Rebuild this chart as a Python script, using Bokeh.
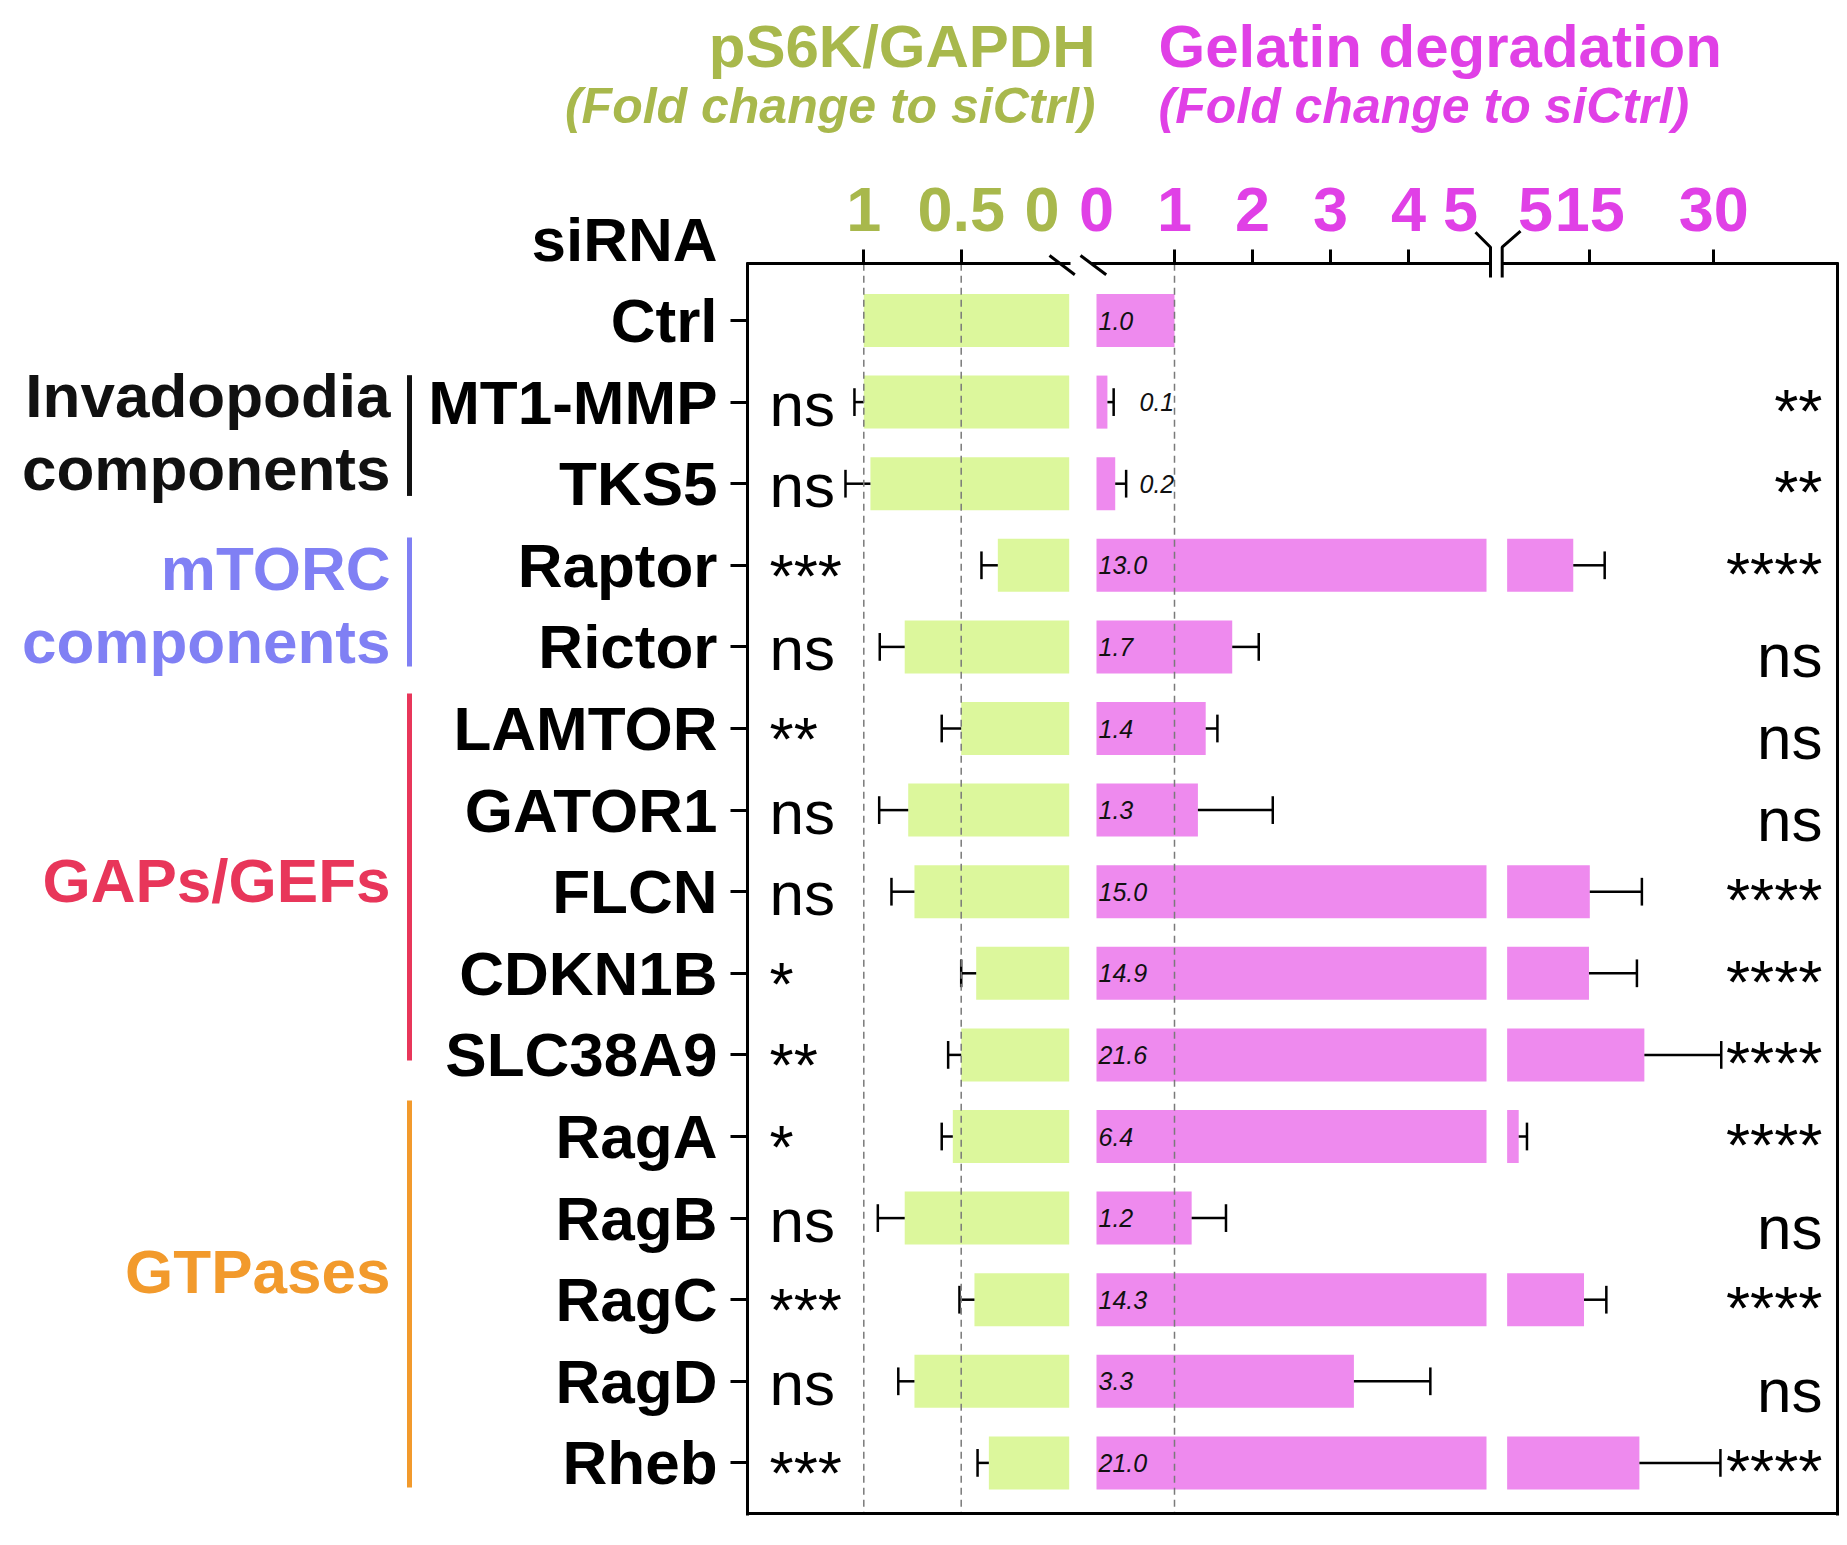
from bokeh.plotting import figure
from bokeh.models import Range1d, LinearAxis, FixedTicker, ColumnDataSource
from bokeh.core.properties import value
from bokeh.embed import file_html
from bokeh.resources import INLINE

# ---------------- data ----------------
categories = ["Ctrl", "MT1-MMP", "TKS5", "Raptor", "Rictor", "LAMTOR", "GATOR1",
              "FLCN", "CDKN1B", "SLC38A9", "RagA", "RagB", "RagC", "RagD", "Rheb"]
ps6k_mean = [1.00, 1.00, 0.966, 0.312, 0.79, 0.50, 0.772, 0.74, 0.423, 0.50,
             0.543, 0.79, 0.432, 0.74, 0.358]
ps6k_err = [0.0, 0.048, 0.128, 0.084, 0.128, 0.10, 0.149, 0.118, 0.077, 0.067,
            0.057, 0.138, 0.077, 0.083, 0.058]
gel_mean = [1.0, 0.14, 0.24, 13.0, 1.74, 1.4, 1.3, 15.0, 14.9, 21.6,
            6.4, 1.22, 14.3, 3.3, 21.0]
gel_err = [0.0, 0.08, 0.14, 3.8, 0.34, 0.15, 0.96, 6.3, 5.8, 9.3,
           1.0, 0.44, 2.7, 0.98, 9.8]
ps6k_sig = ["", "ns", "ns", "***", "ns", "**", "ns", "ns", "*", "**",
            "*", "ns", "***", "ns", "***"]
gel_sig = ["", "**", "**", "****", "ns", "ns", "ns", "****", "****", "****",
           "****", "ns", "****", "ns", "****"]
group_names = ["Invadopodia\ncomponents", "mTORC\ncomponents", "GAPs/GEFs", "GTPases"]
group_first = ["MT1-MMP", "Raptor", "LAMTOR", "RagA"]
group_last = ["TKS5", "Rictor", "SLC38A9", "Rheb"]
ps6k_ticks = [1, 0.5]
ps6k_tick_labels = ["1", "0.5"]
gel_ticks_low = [1, 2, 3, 4]
gel_ticks_high = [15, 30]
gel_break = 5
title_left = ["pS6K/GAPDH", "(Fold change to siCtrl)"]
title_right = ["Gelatin degradation", "(Fold change to siCtrl)"]

# ---------------- style ----------------
FONT = "Liberation Sans"
GREEN_TXT = "#a8b84c"
PINK_TXT = "#e040e6"
GREEN_BAR = "#dcf79c"
PINK_BAR = "#ee8aee"
GROUP_COLORS = ["#111111", "#8080f4", "#e8365a", "#f29a2c"]
GROUP_LINE_OFFSETS = [[-47, 26], [-38, 35], [-11], [-28]]
GROUP_BAR_PAD = [(-0.33, 0.15), (-0.34, 0.24), (-0.43, 0.07), (-0.44, 0.30)]
BIG = "62px"
BAR_H = 0.65
CAP_H = 0.17

# ---------------- layout calibration (picture pixels) ----------------
W, H = 1839, 1525
FR_L, FR_R, FR_T, FR_B = 747.0, 1836.7, 263.3, 1513.3


def lin(px_a, v_a, px_b, v_b):
    k = (v_b - v_a) / (px_b - px_a)
    return lambda px: v_a + (px - px_a) * k


g_at = lin(863.3, 1.0, 960.7, 0.5)       # pS6K axis (reversed)
p1_at = lin(1096.0, 0.0, 1174.0, 1.0)    # gelatin, low segment
p2_at = lin(1589.3, 15.0, 1713.3, 30.0)  # gelatin, high segment
row_at = lin(320.0, 0.0, 1462.4, 14.0)   # category rows

x0, x1 = 0, W
y0, y1 = 0, H
G_BASE = g_at(1068.7)

p = figure(width=W, height=H, title=None,
           x_range=Range1d(x0, x1), y_range=Range1d(y1, y0),
           x_axis_location=None, y_axis_location=None,
           toolbar_location=None, output_backend="svg",
           min_border=0, outline_line_color=None,
           background_fill_color="white", border_fill_color="white")
p.xgrid.visible = False
p.ygrid.visible = False
p.extra_x_ranges = {
    "g": Range1d(g_at(x0), g_at(x1)),
    "p1": Range1d(p1_at(x0), p1_at(x1)),
    "p2": Range1d(p2_at(x0), p2_at(x1)),
}
p.extra_y_ranges = {"rows": Range1d(row_at(y1), row_at(y0))}

rows = list(range(len(categories)))
idx = {c: i for i, c in enumerate(categories)}

# ---------------- bars ----------------
src = ColumnDataSource(dict(
    y=rows, ps6k=ps6k_mean,
    gel_low=[min(v, gel_break) for v in gel_mean],
))
p.hbar(y="y", left="ps6k", right=G_BASE, height=BAR_H, source=src,
       x_range_name="g", y_range_name="rows",
       fill_color=GREEN_BAR, line_color=None)
p.hbar(y="y", left=0, right="gel_low", height=BAR_H, source=src,
       x_range_name="p1", y_range_name="rows",
       fill_color=PINK_BAR, line_color=None)
hi = [i for i in rows if gel_mean[i] > gel_break]
src_hi = ColumnDataSource(dict(y=hi, gel=[gel_mean[i] for i in hi]))
p.hbar(y="y", left=gel_break, right="gel", height=BAR_H, source=src_hi,
       x_range_name="p2", y_range_name="rows",
       fill_color=PINK_BAR, line_color=None)


# ---------------- error bars ----------------
def err_bars(ys, vals, errs, xr):
    keep = [k for k, e in enumerate(errs) if e > 0]
    ys2 = [ys[k] for k in keep]
    v2 = [vals[k] for k in keep]
    ends = [vals[k] + errs[k] for k in keep]
    s = ColumnDataSource(dict(y=ys2, v=v2, end=ends,
                              ya=[y - CAP_H for y in ys2], yb=[y + CAP_H for y in ys2]))
    p.segment(x0="v", y0="y", x1="end", y1="y", source=s, x_range_name=xr,
              y_range_name="rows", line_color="black", line_width=2.5)
    p.segment(x0="end", y0="ya", x1="end", y1="yb", source=s, x_range_name=xr,
              y_range_name="rows", line_color="black", line_width=2.5)


err_bars(rows, ps6k_mean, ps6k_err, "g")
lo = [i for i in rows if gel_mean[i] <= gel_break]
err_bars(lo, [gel_mean[i] for i in lo], [gel_err[i] for i in lo], "p1")
err_bars(hi, [gel_mean[i] for i in hi], [gel_err[i] for i in hi], "p2")

# ---------------- dashed reference lines ----------------
for xv, xr in [(1, "g"), (0.5, "g"), (1, "p1")]:
    p.segment(x0=xv, y0=FR_T, x1=xv, y1=FR_B, x_range_name=xr,
              line_color="#7a7a7a", line_width=1.5, line_dash="7 5")

# ---------------- value labels on gelatin bars ----------------
lab_x = [p1_at(1137) if v < 0.5 else 0 for v in gel_mean]
p.text(x=lab_x, y=rows, text=[f"{v:.1f}" for v in gel_mean],
       x_range_name="p1", y_range_name="rows", x_offset=2, y_offset=0,
       text_font=value(FONT), text_font_style="italic", text_font_size="25px",
       text_color="#111111", text_baseline="alphabetic", text_align="left")


# ---------------- significance labels ----------------
def sig_offsets(labels, ns_off, star_off):
    return [ns_off if t == "ns" else star_off for t in labels]


p.text(x=769, y=rows, text=ps6k_sig, y_range_name="rows",
       y_offset=sig_offsets(ps6k_sig, 2, 10),
       text_font=value(FONT), text_font_size=BIG, text_color="black",
       text_baseline="alphabetic", text_align="left")
p.text(x=1822, y=rows, text=gel_sig, y_range_name="rows",
       y_offset=sig_offsets(gel_sig, 9, 8),
       text_font=value(FONT), text_font_size=BIG, text_color="black",
       text_baseline="alphabetic", text_align="right")

# ---------------- group labels ----------------
for name, first, last, col, offs, pad in zip(group_names, group_first, group_last,
                                             GROUP_COLORS, GROUP_LINE_OFFSETS,
                                             GROUP_BAR_PAD):
    a, b = idx[first], idx[last]
    p.segment(x0=409, y0=a + pad[0], x1=409, y1=b + pad[1], y_range_name="rows",
              line_color=col, line_width=5)
    lines = name.split("\n")
    p.text(x=390, y=[(a + b) / 2] * len(lines), text=lines, y_offset=offs,
           y_range_name="rows", text_font=value(FONT), text_font_style="bold",
           text_font_size=BIG, text_color=col, text_align="right",
           text_baseline="alphabetic")

p.text(x=717, y=239, text=["siRNA"], text_font=value(FONT), text_font_style="bold",
       text_font_size=BIG, text_color="black", text_align="right",
       text_baseline="alphabetic")

# ---------------- titles ----------------
p.text(x=1095, y=46, text=[title_left[0]], text_font=value(FONT),
       text_font_style="bold", text_font_size="60px", text_color=GREEN_TXT,
       text_align="right", text_baseline="alphabetic")
p.text(x=1158, y=46, text=[title_right[0]], text_font=value(FONT),
       text_font_style="bold", text_font_size="60px", text_color=PINK_TXT,
       text_align="left", text_baseline="alphabetic")
p.text(x=1095, y=105, text=[title_left[1]], text_font=value(FONT),
       text_font_style="bold italic", text_font_size="50px", text_color=GREEN_TXT,
       text_align="right", text_baseline="alphabetic")
p.text(x=1158, y=105, text=[title_right[1]], text_font=value(FONT),
       text_font_style="bold italic", text_font_size="50px", text_color=PINK_TXT,
       text_align="left", text_baseline="alphabetic")


# ---------------- axes ----------------
def top_axis(xr, ticks, labels, color, bounds=None, line=True):
    ax = LinearAxis(x_range_name=xr, fixed_location=FR_T,
                    ticker=FixedTicker(ticks=ticks, minor_ticks=[]),
                    major_label_overrides=dict(zip(ticks, labels)),
                    major_label_text_font=FONT, major_label_text_font_style="bold",
                    major_label_text_font_size="63px", major_label_text_color=color,
                    major_label_standoff=19, major_tick_out=14, major_tick_in=0,
                    major_tick_line_width=3, minor_tick_line_color=None)
    if line:
        ax.axis_line_width = 3
        ax.bounds = bounds
    else:
        ax.axis_line_color = None
        ax.major_tick_line_color = None
    p.add_layout(ax, "above")


top_axis("g", ps6k_ticks, ps6k_tick_labels, GREEN_TXT,
         bounds=tuple(sorted((g_at(1070), g_at(FR_L - 1.5)))))
top_axis("p1", gel_ticks_low, [str(t) for t in gel_ticks_low], PINK_TXT,
         bounds=(p1_at(1091), p1_at(1490)))
top_axis("p2", gel_ticks_high, [str(t) for t in gel_ticks_high], PINK_TXT,
         bounds=(p2_at(1502), p2_at(FR_R + 1.5)))
# labels that sit beside the axis breaks (no tick marks)
top_axis("g", [g_at(1041.5)], ["0"], GREEN_TXT, line=False)
top_axis("p1", [0.0, p1_at(1460)], ["0", str(gel_break)], PINK_TXT, line=False)
top_axis("p2", [p2_at(1535)], [str(gel_break)], PINK_TXT, line=False)

yax = LinearAxis(y_range_name="rows", fixed_location=FR_L,
                 ticker=FixedTicker(ticks=rows, minor_ticks=[]),
                 major_label_overrides=dict(zip(rows, categories)),
                 major_label_text_font=FONT, major_label_text_font_style="bold",
                 major_label_text_font_size=BIG, major_label_text_color="black",
                 major_label_standoff=13, major_tick_out=17, major_tick_in=0,
                 major_tick_line_width=3, minor_tick_line_color=None,
                 axis_line_width=3,
                 bounds=(row_at(FR_T - 1.5), row_at(FR_B + 1.5)))
p.add_layout(yax, "left")

bax = LinearAxis(fixed_location=FR_B, ticker=FixedTicker(ticks=[], minor_ticks=[]),
                 major_tick_line_color=None, minor_tick_line_color=None,
                 major_label_text_font_size="0px", axis_line_width=3,
                 bounds=(FR_L - 1.5, FR_R + 1.5))
p.add_layout(bax, "below")
rax = LinearAxis(fixed_location=FR_R, ticker=FixedTicker(ticks=[], minor_ticks=[]),
                 major_tick_line_color=None, minor_tick_line_color=None,
                 major_label_text_font_size="0px", axis_line_width=3,
                 bounds=(FR_T - 1.5, FR_B + 1.5))
p.add_layout(rax, "right")

# ---------------- axis break marks ----------------
p.multi_line(xs=[[1049, 1074.3], [1080, 1105.7], [1475, 1490, 1490], [1520, 1501.7, 1501.7]],
             ys=[[255, 274.3], [255, 274.3], [231.7, 246.7, 277], [230.7, 246.7, 277]],
             line_color="black", line_width=3)

open("out.html", "w").write(file_html(p, INLINE))
